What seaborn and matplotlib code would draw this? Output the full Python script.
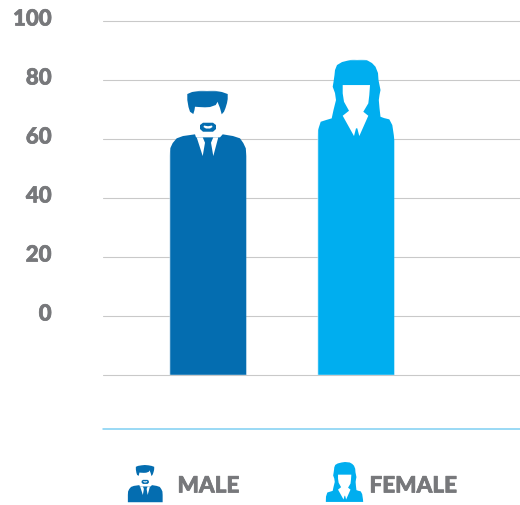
import matplotlib
matplotlib.use("Agg")
import matplotlib.pyplot as plt
import matplotlib.patheffects as pe
import seaborn as sns
from matplotlib.lines import Line2D
from matplotlib.patches import PathPatch
from matplotlib.path import Path
from matplotlib.transforms import Affine2D, ScaledTranslation

categories = ["MALE", "FEMALE"]
values = [76.6, 87.1]
baseline = -20
tick_values = [100, 80, 60, 40, 20, 0, -20]
tick_labels = ["100", "80", "60", "40", "20", "0", ""]
colors = ["#046db0", "#00aeef"]
gray = "#77787b"

# silhouettes, px offsets from the top left of a 76px wide figure
male_shapes = [
    [(17.3, 4), (22, 2), (30, 0.7), (37, 0), (45, 0.7), (52, 2), (57.7, 4), (57.7, 9), (57, 13),
     (55.5, 18), (54, 21.7), (51.7, 24.3), (50, 18), (48, 13), (47.7, 11.7), (45.7, 15), (40, 17),
     (35, 17.3), (29, 17), (25, 16.7), (24.5, 20), (23.3, 24), (20, 21.7), (18.5, 17), (17.3, 10)],
    [(33, 32.7), (43, 32.7), (46, 35), (46, 39), (43, 41.7), (33, 41.7), (30, 39), (30, 35)],
    [(-0.3, 82), (-0.3, 66), (0.2, 58.3), (2.7, 53), (6.7, 48.3), (13, 46), (25, 44.3), (26, 47.3), (33, 47.3),
     (43, 47.3), (50, 47.3), (52.7, 44.3), (63, 46), (70, 48.3), (73.3, 53), (75.8, 58.3), (76.3, 66), (76.3, 82)],
]
male_holes = [
    [(34, 35.5), (38, 36.2), (42, 35.5), (42.5, 37), (40, 38.5), (36, 38.5), (33.5, 37)],
    [(26.7, 47.3), (32.7, 47.3), (35, 52.7), (32.7, 66)],
    [(43.3, 47.3), (48.3, 47.3), (43.3, 66), (41, 52.7)],
]
female_shapes = [
    [(-0.3, 82), (-0.3, 79), (0, 71), (2.7, 62.7), (8, 61), (13.7, 59.3), (15.5, 51), (18, 41), (17, 34),
     (14.7, 27.7), (15.5, 23), (16.5, 16), (17, 11), (19, 6), (24, 3), (32, 1), (39, 0), (48.7, 1),
     (54, 4), (57.5, 7.7), (60, 14), (60.5, 21), (62.5, 31), (61.5, 36), (60.8, 41), (61.5, 49), (62.5, 57.7),
     (66, 59), (71.3, 60.3), (74.3, 66), (75.8, 76), (76.3, 81), (76.3, 82)],
]
female_holes = [
    [(24.7, 26), (52, 26), (51.3, 36), (50.3, 44.3), (45.3, 52.7), (50.3, 56.7), (41.3, 77), (39.3, 69.3),
     (38, 69.3), (36, 77), (24.7, 56.7), (31, 51.7), (26, 42.7), (24.7, 34.3)],
]
shapes = [male_shapes, female_shapes]
holes = [male_holes, female_holes]

sns.set_theme(style="white")
plt.rcParams["font.family"] = ["Lato", "DejaVu Sans"]


def make_path(polys):
    verts, codes = [], []
    for poly in polys:
        verts += poly + [poly[0]]
        codes += [Path.MOVETO] + [Path.LINETO] * (len(poly) - 1) + [Path.CLOSEPOLY]
    return Path(verts, codes)


W, H = 520, 505
fig = plt.figure(figsize=(W / 100, H / 100), dpi=100, facecolor="white")
ax = fig.add_axes([103 / W, (H - 375) / H, 417 / W, 354 / H])

sns.barplot(x=categories, y=[v - baseline for v in values], hue=categories, palette=colors,
            bottom=baseline, width=78 / 148, saturation=1, legend=False, ax=ax)

ax.set_xlim(-105 / 148, 312 / 148)
ax.set_ylim(baseline, 100)
ax.set_yticks(tick_values)
ax.set_yticklabels(tick_labels)
ax.set_xticks([])
ax.tick_params(axis="y", length=0, pad=37)
ax.yaxis.grid(True, color="#c9c9c9", linewidth=0.8)
ax.set_axisbelow(True)
sns.despine(ax=ax, left=True, bottom=True)
for line in ax.get_ygridlines():
    line.set_clip_on(False)
heavy = [pe.withStroke(linewidth=0.5, foreground=gray)]
for label in ax.get_yticklabels():
    label.set_fontsize(16)
    label.set_fontweight("black")
    label.set_color(gray)
    label.set_path_effects(heavy)
    label.set_transform(label.get_transform() + ScaledTranslation(0, 4 / 100, fig.dpi_scale_trans))

# cut each bar into its person shape
for bar, polys, cuts in zip(ax.patches, shapes, holes):
    (x0, y0), (x1, y1) = ax.transData.transform([(bar.get_x(), bar.get_y()),
                                                 (bar.get_x() + bar.get_width(), bar.get_y() + bar.get_height())])
    # bar is 2px wider than the figure so the clip sets the edge
    tr = Affine2D().scale(1, -1).translate(x0 + 1, y1)
    depth = y1 - y0 + 1
    body = [(-0.3, 82), (76.3, 82), (76.3, depth), (-0.3, depth)]
    bar.set_clip_path(make_path(polys + [body]), tr)
    ax.add_patch(PathPatch(make_path(cuts), facecolor="white", edgecolor="none", transform=tr, zorder=3))

# legend icons
icon_left = [128, 326]
icon_top = [465, 462]
icon_scale = [0.454, 0.487]
text_left = [177.5, 369.5]
for i, name in enumerate(categories):
    tr = Affine2D().scale(icon_scale[i], -icon_scale[i]).translate(icon_left[i], H - icon_top[i])
    fig.add_artist(PathPatch(make_path(shapes[i]), facecolor=colors[i], edgecolor="none", transform=tr))
    fig.add_artist(PathPatch(make_path(holes[i]), facecolor="white", edgecolor="none", transform=tr))
    fig.text(text_left[i] / W, (H - 486) / H, name, color=gray, fontsize=16.2, fontweight="black", va="center",
             path_effects=heavy)

fig.add_artist(Line2D([103 / W, 1], [(H - 429) / H] * 2, color="#7fd0f2", linewidth=1.1, transform=fig.transFigure))

fig.savefig("out.png", dpi=100)
